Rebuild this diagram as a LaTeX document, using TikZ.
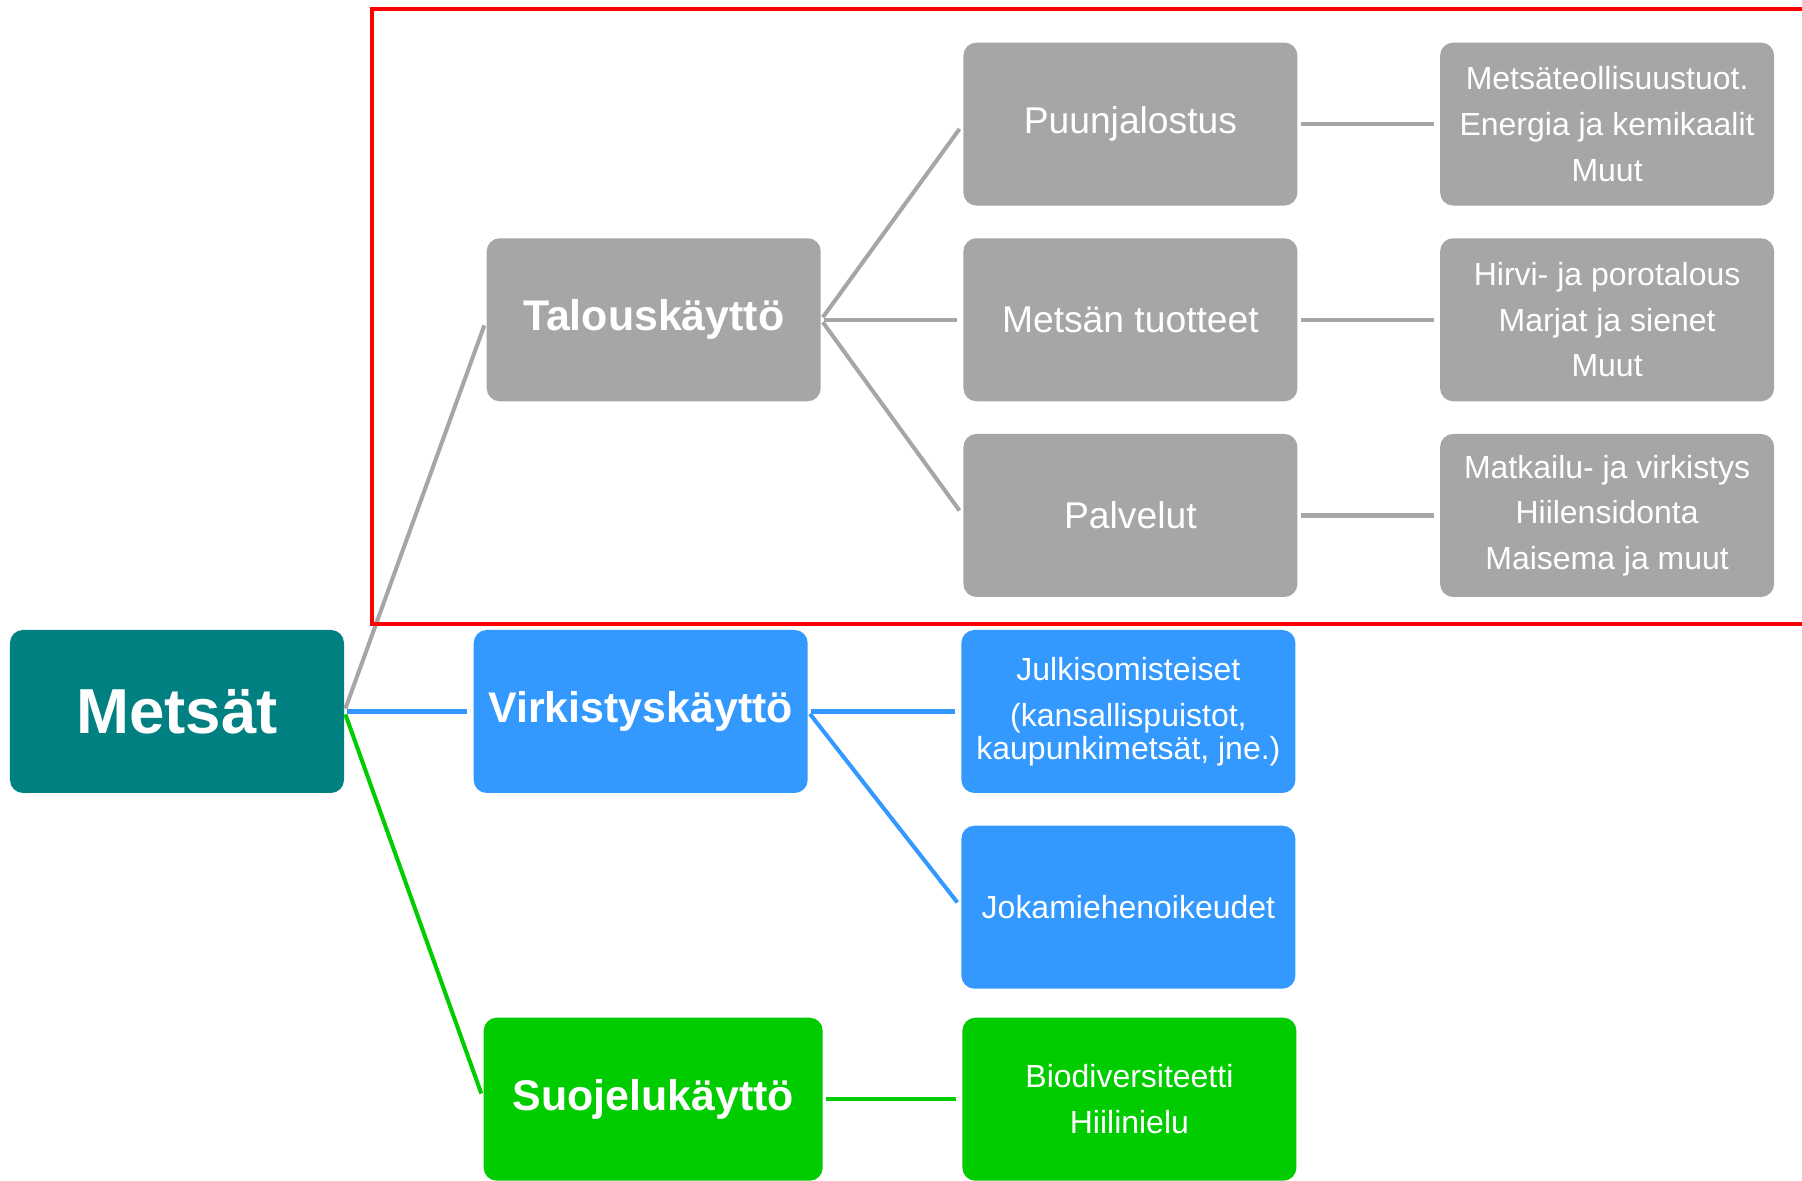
\documentclass[tikz,border=0pt]{standalone}
\usepackage{fontspec}
\setmainfont{Liberation Sans}
\usetikzlibrary{positioning}
\definecolor{harmaa}{HTML}{A6A6A6}
\definecolor{petroli}{HTML}{008080}
\definecolor{sininen}{HTML}{3399FF}
\definecolor{vihrea}{HTML}{00CC00}

\begin{document}
\begin{tikzpicture}[
    box/.style={rounded corners=0.26cm, text=white, align=center, inner sep=0pt,
                minimum width=6.68cm, minimum height=3.26cm},
    head/.style={font=\fontsize{24.4}{30}\selectfont\bfseries},
    mid/.style={font=\fontsize{21.2}{26}\selectfont},
    small/.style={font=\fontsize{18.2}{26}\selectfont},
    link/.style={line width=2.3pt, shorten <=0.06cm, shorten >=0.12cm}]
    \useasboundingbox (0,0) rectangle (36.04,23.62);
    \node[box, fill=petroli, font=\fontsize{36.2}{44}\selectfont\bfseries] (M) at (3.54,9.39) {Metsät};
    \node[box, head, fill=harmaa, above right=4.56cm and 2.84cm of M] (T) {Talouskäyttö};
    \node[box, head, fill=sininen, right=2.58cm of M] (V) {Virkistyskäyttö};
    \node[box, head, fill=vihrea, minimum width=6.78cm, below right=4.48cm and 2.78cm of M] (S) {Suojelukäyttö};
    \node[box, mid, fill=harmaa, right=2.84cm of T] (Mt) {Metsän tuotteet};
    \node[box, mid, fill=harmaa, above=0.64cm of Mt] (Pj) {Puunjalostus};
    \node[box, mid, fill=harmaa, below=0.64cm of Mt] (Pv) {Palvelut};
    \node[box, small, fill=sininen, right=3.06cm of V] (Ju) {Julkisomisteiset\\(kansallispuistot,\\[-7.3pt]kaupunkimetsät, jne.)};
    \node[box, small, fill=sininen, below=0.64cm of Ju] (Jo) {Jokamiehenoikeudet};
    \node[box, small, fill=vihrea, right=2.78cm of S] (Bi) {Biodiversiteetti\\Hiilinielu};
    \node[box, small, fill=harmaa, right=2.84cm of Pj] (Pj2) {Metsäteollisuustuot.\\Energia ja kemikaalit\\Muut};
    \node[box, small, fill=harmaa, right=2.84cm of Mt] (Mt2) {Hirvi- ja porotalous\\Marjat ja sienet\\Muut};
    \node[box, small, fill=harmaa, right=2.84cm of Pv] (Pv2) {Matkailu- ja virkistys\\Hiilensidonta\\Maisema ja muut};
    \draw[link, harmaa] (M.east) -- (T.west);
    \draw[link, sininen] (M.east) -- (V.west);
    \draw[link, vihrea] (M.east) -- (S.west);
    \draw[link, harmaa] (T.east) -- (Pj.west);
    \draw[link, harmaa] (T.east) -- (Mt.west);
    \draw[link, harmaa] (T.east) -- (Pv.west);
    \draw[link, harmaa] (Pj.east) -- (Pj2.west);
    \draw[link, harmaa] (Mt.east) -- (Mt2.west);
    \draw[link, harmaa] (Pv.east) -- (Pv2.west);
    \draw[link, sininen] (V.east) -- (Ju.west);
    \draw[link, sininen] (V.east) -- (Jo.west);
    \draw[link, vihrea] (S.east) -- (Bi.west);
    \draw[red, line width=1.8pt] (7.44,23.44) rectangle (36.5,11.14);
\end{tikzpicture}
\end{document}
